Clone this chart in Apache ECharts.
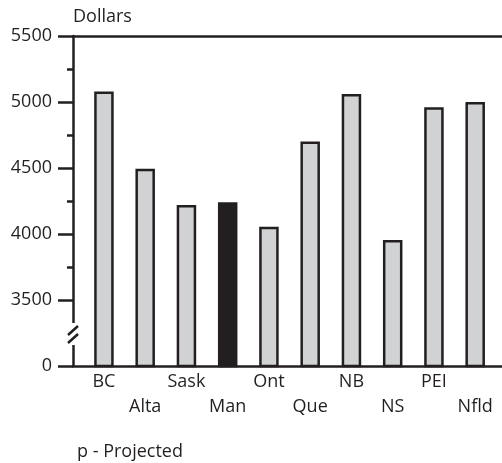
<!DOCTYPE html>
<html>
<head>
<meta charset="utf-8">
<script src="https://cdn.jsdelivr.net/npm/echarts@6/dist/echarts.min.js"></script>
<style>html,body{margin:0;padding:0;background:#fff}#c{width:502px;height:463px}</style>
</head>
<body>
<div id="c"></div>
<script>
const categories = ['BC','Alta','Sask','Man','Ont','Que','NB','NS','PEI','Nfld'];
const values = [5080, 4495, 4220, 4240, 4055, 4700, 5060, 3955, 4960, 5000];
const highlighted = ['Man'];
const yTickValues = [3000, 3500, 4000, 4500, 5000, 5500];
const yTickLabels = ['0', '3500', '4000', '4500', '5000', '5500'];
const yMinorTicks = [3750, 4250, 4750, 5250];
const yAxisName = 'Dollars';
const footnote = 'p - Projected';

const INK = '#231f20';
const FONT = 'Open Sans';
const FS = 18;

const chart = echarts.init(document.getElementById('c'), null, {renderer: 'canvas'});
const idx = categories.map((_, i) => i);
const labelMap = {};
yTickValues.forEach((v, i) => labelMap[v] = yTickLabels[i]);

const option = {
  animation: false,
  textStyle: {fontFamily: FONT, color: INK},
  title: {
    text: footnote, left: 72, top: 438,
    textStyle: {fontFamily: FONT, fontSize: FS, fontWeight: 'normal', color: INK}
  },
  grid: {left: 73, right: 0, top: 36, bottom: 97, containLabel: false},
  xAxis: [{
    type: 'value', min: -0.75, max: 9.65, position: 'bottom',
    axisLine: {show: true, onZero: false, lineStyle: {color: INK, width: 2.5}},
    axisTick: {show: false},
    splitLine: {show: false},
    axisLabel: {
      customValues: idx, margin: 3, fontSize: FS, color: INK, fontFamily: FONT,
      lineHeight: 25, verticalAlign: 'top',
      formatter: v => (v % 2 === 1 ? '\n' : '') + categories[v]
    }
  }, {
    type: 'value', min: -0.75, max: 9.65, position: 'top',
    axisLine: {show: true, onZero: false, lineStyle: {color: INK, width: 2.5}},
    axisTick: {show: false}, axisLabel: {show: false}, splitLine: {show: false}
  }],
  yAxis: [{
    type: 'value', min: 3000, max: 5500, interval: 500, position: 'left',
    name: yAxisName, nameLocation: 'end', nameGap: 19,
    nameTextStyle: {fontFamily: FONT, fontSize: FS, color: INK, align: 'left', verticalAlign: 'middle'},
    axisLine: {show: true, onZero: false, lineStyle: {color: INK, width: 2.5}},
    axisTick: {show: true, length: 15, lineStyle: {color: INK, width: 2.5}},
    axisLabel: {margin: 21, fontSize: FS, color: INK, fontFamily: FONT, formatter: v => labelMap[v]},
    splitLine: {show: false}
  }, {
    type: 'value', min: 3000, max: 5500, position: 'left',
    axisLine: {show: false, onZero: false},
    axisTick: {show: true, length: 6, customValues: yMinorTicks, lineStyle: {color: INK, width: 2.5}},
    axisLabel: {show: false}, splitLine: {show: false}
  }],
  series: [{
    type: 'bar', xAxisIndex: 0, yAxisIndex: 0,
    barWidth: 19.5,
    data: values.map((v, i) => ({
      value: [i, v],
      itemStyle: highlighted.includes(categories[i])
        ? {color: INK, borderColor: INK, borderWidth: 2.5}
        : {color: '#d1d2d4', borderColor: INK, borderWidth: 2.5}
    })),
    z: 1
  }]
};
chart.setOption(option);

// axis break marker on the y axis (between 0 and 3500)
const p = chart.convertToPixel({gridIndex: 0}, [-0.75, 3250]);
const ax = p[0], py = p[1];
chart.setOption({
  graphic: [
    {type: 'rect', shape: {x: ax - 6, y: py - 10, width: 12, height: 22}, style: {fill: '#fff'}, z: 100},
    {type: 'line', shape: {x1: ax - 5, y1: py + 2, x2: ax + 5, y2: py - 7}, style: {stroke: INK, lineWidth: 2.5}, z: 101},
    {type: 'line', shape: {x1: ax - 5, y1: py + 10, x2: ax + 5, y2: py + 1}, style: {stroke: INK, lineWidth: 2.5}, z: 101}
  ]
});
</script>
</body>
</html>
